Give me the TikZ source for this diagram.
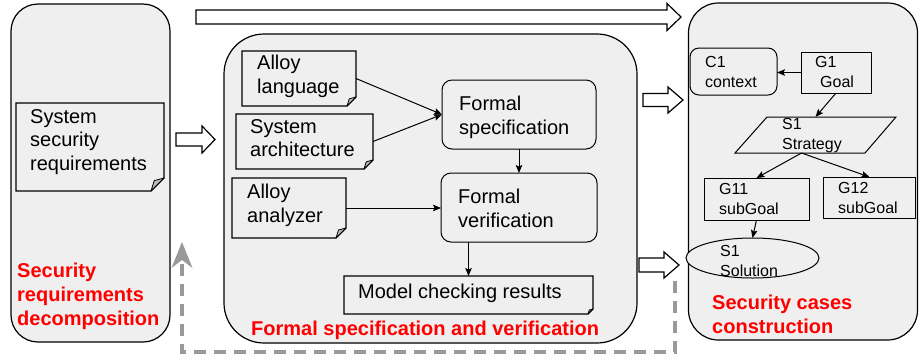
\documentclass[tikz,border=0pt]{standalone}
\usepackage{fontspec}
\setmainfont{Liberation Sans}
\usetikzlibrary{arrows.meta,shapes.geometric}
\definecolor{panelgray}{HTML}{EFEFEF}
\definecolor{foldgray}{HTML}{BBBBBB}
\definecolor{dashgray}{HTML}{999999}
\definecolor{labred}{HTML}{FF0000}
\tikzset{
  panel/.style={draw, fill=panelgray, line width=1.2pt, inner sep=0pt},
  hold/.style={inner sep=0pt, outer sep=0pt},
  rbox/.style={draw, fill=panelgray, line width=1pt, inner sep=0pt, outer sep=0pt},
  txt/.style={inner sep=0pt, align=left, font=\fontsize{20}{23.5}\selectfont, anchor=base west},
  stxt/.style={inner sep=0pt, align=left, font=\fontsize{16}{19.5}\selectfont, anchor=base west},
  redlab/.style={inner sep=0pt, align=left, font=\fontsize{20}{24}\selectfont\bfseries, text=labred, anchor=base west},
  conn/.style={line width=1pt, -{Stealth[length=8pt,width=6.5pt,inset=1.5pt]}},
  blockarrow/.style={draw, fill=white, line width=1.2pt, line join=miter},
  feedback/.style={draw=dashgray, line width=3.5pt, dash pattern=on 12pt off 8pt},
}
\newcommand\drawnote[2]{%
  \draw[line width=1.1pt, fill=panelgray] (#1.north west) -- (#1.north east) -- ([yshift=#2]#1.south east) -- ([xshift=-#2]#1.south east) -- (#1.south west) -- cycle;
  \draw[line width=0.8pt, fill=foldgray, line join=round] ([yshift=#2]#1.south east) -- ([xshift=-0.75*#2, yshift=0.8*#2]#1.south east) -- ([xshift=-#2]#1.south east) -- cycle;
}
\newcommand\blockarr[5]{% start, tip, head length, shaft half, head half
  \draw[blockarrow] ([yshift=#4]#1) -- ([xshift=-#3, yshift=#4]#2) -- ([xshift=-#3, yshift=#5]#2) -- (#2) -- ([xshift=-#3, yshift=-#5]#2) -- ([xshift=-#3, yshift=-#4]#2) -- ([yshift=-#4]#1) -- cycle;
}
\begin{document}
\begin{tikzpicture}[x=1pt, y=-1pt]
\useasboundingbox (0,0) rectangle (919,360);

% panels
\node[panel, rounded corners=27pt, minimum width=159pt, minimum height=338pt] (p1) at (90.5,173) {};
\node[panel, rounded corners=40pt, minimum width=413pt, minimum height=309pt] (p2) at (430.5,188.5) {};
\node[panel, rounded corners=30pt, minimum width=229pt, minimum height=337pt] (p3) at (803,171.5) {};

% block arrows
\coordinate (ta0) at (196,17);   \coordinate (ta1) at (681,17);
\coordinate (la0) at (176,139.5); \coordinate (la1) at (215,139.5);
\coordinate (ra0) at (643,100);  \coordinate (ra1) at (683,100);
\coordinate (rb0) at (639,265);  \coordinate (rb1) at (679,265);
\blockarr{ta0}{ta1}{14pt}{7pt}{13.5pt}
\blockarr{la0}{la1}{13pt}{6.5pt}{13.5pt}
\blockarr{ra0}{ra1}{15pt}{6.5pt}{13pt}
\blockarr{rb0}{rb1}{15pt}{7pt}{13pt}

% feedback dashed arrow
\coordinate (fb0) at (675,281);
\coordinate (fb1) at (675,352);
\coordinate (fb2) at (182,352);
\coordinate (fb3) at (182,262);
\coordinate (fbtip) at (182,242);
\draw[feedback] (fb0) -- (fb1) -- (fb2) -- (fb3);
\fill[dashgray] (fbtip) -- (192.5,268) -- (182,260) -- (171.5,268) -- cycle;

% notes
\node[hold, minimum width=148pt, minimum height=88pt] (ssr) at (90,147) {};
\node[hold, minimum width=114pt, minimum height=55pt] (al) at (299,78.5) {};
\node[hold, minimum width=137pt, minimum height=55pt] (sa) at (304.5,141.5) {};
\node[hold, minimum width=114pt, minimum height=60pt] (aa) at (289,208) {};
\node[hold, minimum width=249pt, minimum height=38pt] (mcr) at (468.5,295) {};
\drawnote{ssr}{13pt}
\drawnote{al}{9pt}
\drawnote{sa}{9pt}
\drawnote{aa}{10pt}
\drawnote{mcr}{5pt}

% middle boxes
\node[rbox, rounded corners=10pt, minimum width=154pt, minimum height=69pt] (fs) at (519,114.5) {};
\node[rbox, rounded corners=10pt, minimum width=156pt, minimum height=69pt] (fv) at (519,207.5) {};

% right panel boxes
\node[rbox, rounded corners=9pt, minimum width=87pt, minimum height=47pt] (c1) at (733.5,71.5) {};
\node[rbox, minimum width=70pt, minimum height=41pt] (g1) at (836,72.5) {};
\node[hold, minimum width=161pt, minimum height=36pt] (s1) at (815.5,135) {};
\draw[line width=1pt, fill=panelgray] ([xshift=32pt]s1.north west) -- (s1.north east) -- ([xshift=-31pt]s1.south east) -- (s1.south west) -- cycle;
\node[rbox, minimum width=105pt, minimum height=42pt] (g11) at (756.5,199) {};
\node[rbox, minimum width=92pt, minimum height=41pt] (g12) at (869.5,197.5) {};
\node[rbox, ellipse, minimum width=133pt, minimum height=40pt] (sol) at (752.5,258) {};

% connectors
\draw[conn] (al.east) -- (fs.west);
\draw[conn] (sa.east) -- (fs.west);
\draw[conn] (aa.east) -- (fv.west |- aa.east);
\draw[conn] (fs.south) -- (fv.north);
\draw[conn] (fv.south -| mcr.north) -- (mcr.north);
\draw[conn] (g1.west) -- (c1.east |- g1.west);
\draw[conn] (g1.south) -- (s1.north);
\coordinate (sb) at ([xshift=-14pt]s1.south);
\draw[conn] (sb) -- (g11.north);
\draw[conn] (sb) -- (g12.north);
\draw[conn] (g11.south) -- (sol.north);

% texts (anchored at the baseline of the last line)
\node[txt] (tssr) at (30,170) {System\\security\\requirements};
\node[redlab] (l1) at (17,325) {Security\\requirements\\decomposition};
\node[txt] (tal) at (257,93) {Alloy\\language};
\node[txt] (tsa) at (250,156.5) {System\\architecture};
\node[txt] (taa) at (247,222) {Alloy\\analyzer};
\node[txt] (tfs) at (459,134) {Formal\\specification};
\node[txt] (tfv) at (458,227) {Formal\\verification};
\node[txt] (tmcr) at (358,298) {Model checking results};
\node[redlab] (l2) at (251,335) {Formal specification and verification};
\node[stxt] (tc1) at (705,87) {C1\\context};
\node[stxt] (tg1) at (815,87) {G1\\\hspace*{5pt}Goal};
\node[stxt] (ts1) at (782,149) {S1\\Strategy};
\node[stxt] (tg11) at (719,214) {G11\\subGoal};
\node[stxt] (tg12) at (838,213) {G12\\subGoal};
\node[stxt] (tsol) at (720,276) {S1\\Solution};
\node[redlab] (l3) at (712,333) {Security cases\\construction};
\end{tikzpicture}
\end{document}
